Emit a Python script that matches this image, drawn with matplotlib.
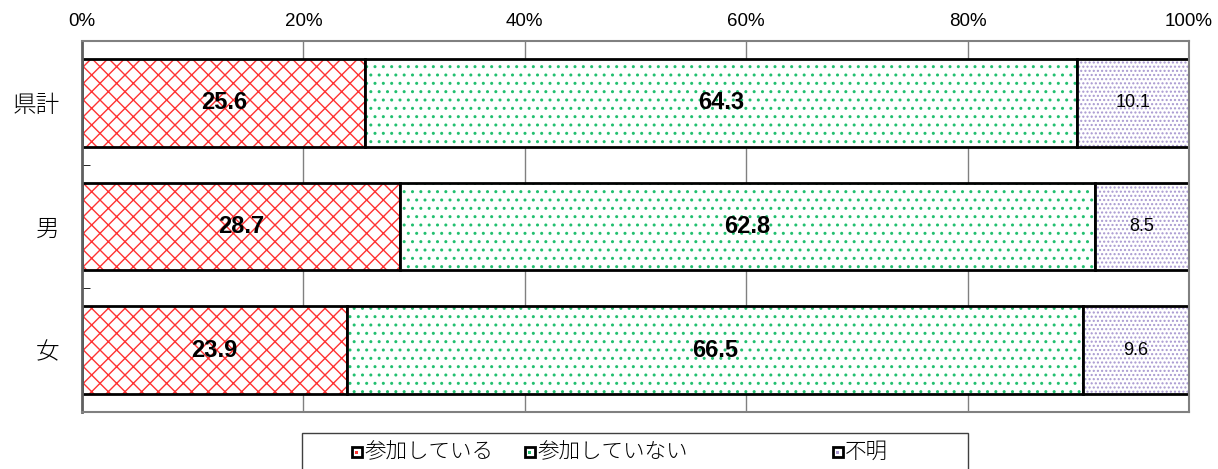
import numpy as np
import matplotlib.pyplot as plt
from matplotlib.patches import Rectangle

plt.rcParams['font.family'] = ['Noto Sans CJK JP', 'DejaVu Sans']

categories = ['県計', '男', '女']
sankashiteiru = [25.6, 28.7, 23.9]
sankashiteinai = [64.3, 62.8, 66.5]
fumei = [10.1, 8.5, 9.6]
series_names = ['参加している', '参加していない', '不明']

hatch_colors = ['#ff3333', '#22c070', '#a898d0']
hatches = ['xx', '..', '....']
label_bold = [True, True, False]

W, H = 1218, 469
fig = plt.figure(figsize=(W / 100, H / 100), dpi=100)
ax = fig.add_axes([82 / W, 1 - 412 / H, 1107 / W, 371 / H])

y = np.arange(len(categories))
h = 0.71
left = np.zeros(len(categories))
for vals, hc, ht, bold in zip([sankashiteiru, sankashiteinai, fumei], hatch_colors, hatches, label_bold):
    vals = np.array(vals)
    # 模様だけ先に描く
    ax.barh(y, vals, h, left=left, color='white', edgecolor=hc, hatch=ht, linewidth=0)
    # 枠線
    ax.barh(y, vals, h, left=left, fill=False, edgecolor='black', linewidth=2)
    for yi, l, v in zip(y, left, vals):
        ax.text(l + v / 2, yi, f'{v:.1f}', ha='center', va='center',
                fontsize=17 if bold else 13, fontweight='bold' if bold else 'normal',
                family=['Liberation Sans'])
    left += vals

ax.set_xlim(0, 100)
ax.set_ylim(len(categories) - 0.5, -0.5)
ax.xaxis.tick_top()
ax.set_xticks(np.arange(0, 101, 20))
ax.set_xticklabels([f'{t}%' for t in range(0, 101, 20)], fontsize=13.5, family=['Liberation Sans'])
ax.tick_params(axis='x', length=0, pad=8)
ax.set_yticks(y)
ax.set_yticklabels(categories, fontsize=17, fontweight='light')
ax.tick_params(axis='y', length=0, pad=16)
ax.set_yticks([0.5, 1.5, 2.5], minor=True)
ax.tick_params(axis='y', which='minor', length=6, direction='in', color='black')
ax.grid(axis='x', color='#808080', linewidth=1)
ax.set_axisbelow(True)
for s in ['top', 'right', 'bottom']:
    ax.spines[s].set_color('#808080')
    ax.spines[s].set_linewidth(1.5)
ax.spines['left'].set_color('#606060')
ax.spines['left'].set_linewidth(2)

# 凡例（手組み）
fig.patches.append(Rectangle((302 / W, -0.05), 666 / W, 1 - 433 / H + 0.05,
                             transform=fig.transFigure, fill=False,
                             edgecolor='#404040', linewidth=1))
legend_x = [352, 525, 833]
legend_y = 1 - 452 / H
sq = 10
for name, hc, lx in zip(series_names, hatch_colors, legend_x):
    fig.patches.append(Rectangle((lx / W, legend_y - sq / 2 / H), sq / W, sq / H,
                                 transform=fig.transFigure, facecolor='white',
                                 edgecolor='black', linewidth=2))
    fig.patches.append(Rectangle(((lx + 3) / W, legend_y - 2 / H), 3 / W, 3 / H,
                                 transform=fig.transFigure, facecolor=hc,
                                 edgecolor='none'))
    fig.text((lx + sq + 2) / W, legend_y, name, fontsize=15.5, va='center', ha='left',
             fontweight='light')

fig.savefig('out.png', dpi=100)
